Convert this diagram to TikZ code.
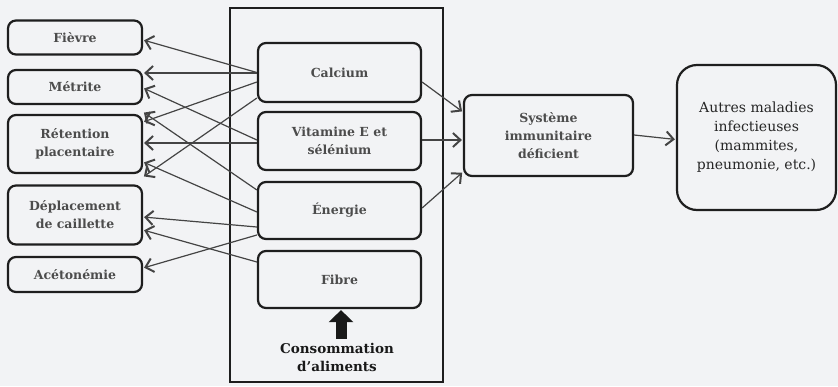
\documentclass[tikz,border=0pt]{standalone}
\usepackage{fontspec}
\setmainfont{DejaVu Serif}
\usetikzlibrary{arrows.meta}
\definecolor{bg}{HTML}{F2F3F5}
\definecolor{txt}{HTML}{4C4C4C}
\definecolor{ln}{HTML}{444444}
\definecolor{bd}{HTML}{1E1E1E}
\begin{document}
\begin{tikzpicture}[x=1pt,y=-1pt,
  box/.style={draw=bd, line width=2.2pt, rounded corners=8pt, align=center, inner sep=0pt,
    text=txt, font=\fontsize{12.5}{18}\selectfont\bfseries},
  lbox/.style={box, minimum width=134pt},
  ibox/.style={box, minimum width=163pt},
  conn/.style={draw=ln, line width=1.2pt, shorten >=1pt,
    -{Straight Barb[length=7.5pt,width=14pt,line width=2pt]}},
]
\fill[bg] (0,0) rectangle (838,386);
\useasboundingbox (0,0) rectangle (838,386);

% outer frame
\node[draw=bd, line width=2.2pt, minimum width=213pt, minimum height=374pt, inner sep=0pt] (outer) at (336.5,195) {};

% left boxes
\node[lbox, minimum height=34pt] (fie) at (75,37.5) {Fièvre};
\node[lbox, minimum height=34pt] (met) at (75,87) {Métrite};
\node[lbox, minimum height=58pt] (ret) at (75,144) {Rétention\\placentaire};
\node[lbox, minimum height=59pt] (dep) at (75,215) {Déplacement\\de caillette};
\node[lbox, minimum height=35pt] (ace) at (75,274.5) {Acétonémie};

% inner boxes
\node[ibox, minimum height=59pt] (cal) at (339.5,72.5) {Calcium};
\node[ibox, minimum height=58pt] (vit) at (339.5,141) {Vitamine E et\\sélénium};
\node[ibox, minimum height=57pt] (ene) at (339.5,210.5) {Énergie};
\node[ibox, minimum height=57pt] (fib) at (339.5,279.5) {Fibre};

% right boxes
\node[box, minimum width=169pt, minimum height=81pt] (sys) at (548.5,135.5) {Système\\immunitaire\\déficient};
\node[box, rounded corners=20pt, minimum width=159pt, minimum height=145pt,
  text=black!85, font=\fontsize{14}{19}\selectfont] (aut) at (756.5,137.5)
  {Autres maladies\\infectieuses\\(mammites,\\pneumonie, etc.)};

% feed consumption
\node[align=center, inner sep=0pt, text=black!90, font=\fontsize{13.5}{18}\selectfont\bfseries] (cons) at (337,357) {Consommation\\d’aliments};
\draw[black!90, line width=11pt, shorten >=5pt, -{Triangle[length=12pt,width=24pt]}]
  ([xshift=4pt,yshift=4pt]cons.north) -- ([xshift=4pt,yshift=4pt]cons.north |- fib.south);

% connectors to the left
\draw[conn] (cal.west) -- ([yshift=-2.5pt]fie.east);
\draw[conn] ([yshift=-0.5pt]cal.west) -- ([yshift=14pt]met.east);
\draw[conn] ([yshift=-9.5pt]cal.west) -- ([yshift=22pt]ret.east);
\draw[conn] ([yshift=-25.5pt]cal.west) -- ([yshift=-33pt]ret.east);
\draw[conn] ([yshift=1pt]vit.west) -- ([yshift=-1pt]met.east);
\draw[conn] ([yshift=-2pt]vit.west) -- ([yshift=1pt]ret.east);
\draw[conn] ([yshift=20.5pt]ene.west) -- ([yshift=32pt]ret.east);
\draw[conn] ([yshift=-1.5pt]ene.west) -- ([yshift=-18pt]ret.east);
\draw[conn] ([yshift=-16.5pt]ene.west) -- ([yshift=-2pt]dep.east);
\draw[conn] ([yshift=-24.5pt]ene.west) -- ([yshift=6.5pt]ace.east);
\draw[conn] ([yshift=17.5pt]fib.west) -- ([yshift=-15pt]dep.east);

% connectors to the right
\draw[conn] ([yshift=-9.5pt]cal.east) -- ([yshift=23.5pt]sys.west);
\draw[conn] ([yshift=1pt]vit.east) -- ([yshift=-4.5pt]sys.west);
\draw[conn] ([yshift=2.5pt]ene.east) -- ([yshift=-36.5pt]sys.west);
\draw[conn] ([yshift=0.5pt]sys.east) -- ([yshift=-2pt]aut.west);
\end{tikzpicture}
\end{document}
